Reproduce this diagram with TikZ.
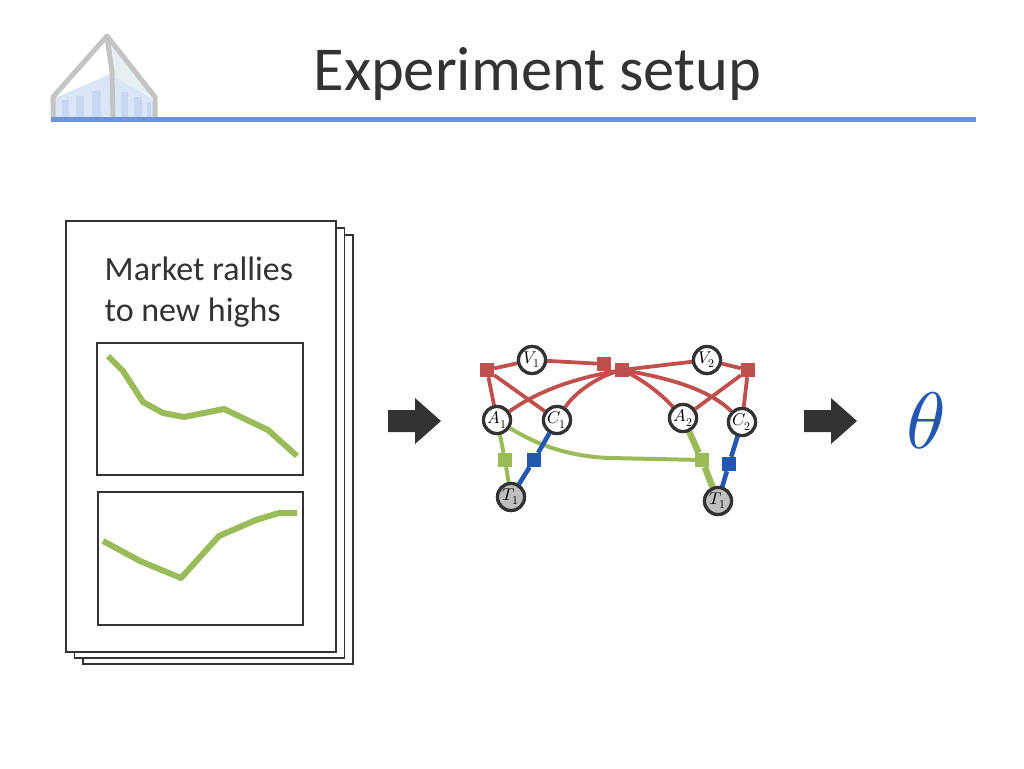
\documentclass[tikz,border=0pt]{standalone}
\usepackage{fontspec}
\setmainfont{Carlito}
\usepackage{unicode-math}
\definecolor{fred}{HTML}{C0504D}
\definecolor{fgreen}{HTML}{9BBB59}
\definecolor{fblue}{HTML}{2458B0}
\definecolor{rulec}{HTML}{6C93D6}
\definecolor{ink}{HTML}{333333}
\definecolor{logoa}{HTML}{DAE5F7}
\definecolor{logob}{HTML}{E6F0F3}
\definecolor{logoc}{HTML}{C8D7F1}
\definecolor{logod}{HTML}{C4C4C4}
\tikzset{
 x=1pt,y=-1pt,
 var/.style={circle,draw=ink,line width=3.2pt,fill=white,minimum size=27pt,inner sep=0pt,font=\fontsize{17}{17}\selectfont},
 obs/.style={var,fill=black!25},
 fac/.style={rectangle,minimum size=14pt,inner sep=0pt},
 rf/.style={fac,fill=fred},
 gf/.style={fac,fill=fgreen},
 bf/.style={fac,fill=fblue},
 re/.style={draw=fred,line width=3.8pt},
 ge/.style={draw=fgreen,line width=4pt},
 be/.style={draw=fblue,line width=4.6pt},
 page/.style={draw=ink,line width=1.8pt,fill=white},
 plotbox/.style={draw=ink,line width=1.8pt,fill=white},
 curve/.style={draw=fgreen,line width=6pt,line join=round},
 blockarrow/.style={fill=ink,draw=none},
 logoline/.style={draw=logod,line width=5pt,line join=round}
}
\begin{document}
\begin{tikzpicture}
\useasboundingbox (0,0) rectangle (1024,768);
% logo
\fill[logoa] (55,117) -- (55,98) -- (110,74) -- (152,98) -- (155,117) -- cycle;
\fill[logob] (108,37) -- (153,97) -- (112,76) -- cycle;
\foreach \xa/\xb/\yt in {62/69/100,76/84/96,92/101/91,121/128/92,134/142/97,147/151/102}
  \fill[logoc] (\xa,117) -- (\xa,\yt) -- (\xb,\yt) -- (\xb,117) -- cycle;
\draw[logoline] (53,117) -- (53,97) -- (107,36) -- (155,97) -- (155,117);
\draw[logoline] (107,36) -- (112,72) -- (113,117);
% title rule
\draw[rulec,line width=4.4pt] (51,119.5) -- (976,119.5);
\node[text=ink,font=\fontsize{62.5}{62.5}\selectfont,anchor=center] (title) at (537.5,74.5) {Experiment setup};
% pages
\draw[page] (83,235) rectangle (353,664);
\draw[page] (74.5,228) rectangle (344.5,658);
\draw[page] (66,221) rectangle (336,652);
\node[text=ink,font=\fontsize{34}{41}\selectfont,align=left,anchor=north west,inner sep=0pt] (head) at (104.5,257) {Market rallies\\to new highs};
\draw[plotbox] (97,343) rectangle (303,475);
\draw[plotbox] (98,492) rectangle (303,625);
\draw[curve] (108,356) -- (123,371) -- (143,402) -- (163,413) -- (184,417) -- (224,409) -- (268,430) -- (297,456);
\draw[curve] (103,541) -- (140,561) -- (181,578) -- (219,536) -- (256,520) -- (279,513) -- (297,513);
% arrows
\fill[blockarrow] (388,410) -- (415,410) -- (415,398) -- (441,421) -- (415,444) -- (415,432) -- (388,432) -- cycle;
\fill[blockarrow] (804,410) -- (831,410) -- (831,398) -- (857,421) -- (831,444) -- (831,432) -- (804,432) -- cycle;
\node[text=fblue,font=\fontsize{80}{80}\selectfont,anchor=center] (theta) at (926,421) {$\symit{\theta}$};
% node positions
\node[var] (V1) at (532,360) {};
\node[var] (V2) at (707,360) {};
\node[var] (A1) at (497,420) {};
\node[var] (C1) at (557,420) {};
\node[var] (A2) at (683,418) {};
\node[var] (C2) at (742,422) {};
\node[obs] (T1) at (511,497) {};
\node[obs] (T2) at (718,501) {};
\node[rf] (fa) at (487,370) {};
\node[rf] (fb) at (604,364) {};
\node[rf] (fc) at (622,370) {};
\node[rf] (fd) at (748,370) {};
\node[gf] (ga) at (505,460) {};
\node[gf] (gb) at (702,460) {};
\node[bf] (ba) at (534,460) {};
\node[bf] (bb) at (729,464) {};
% edges
\path[re] (fa) -- (V1) (fa) -- (A1) (fa) -- (C1);
\path[re] (V1) -- (fb) (fc) -- (V2);
\path[re] (fc.center) .. controls (575,378) and (540,390) .. (A1);
\path[re] (fc.center) .. controls (600,375) and (575,392) .. (C1);
\path[re] (fc.center) .. controls (645,380) and (665,398) .. (A2);
\path[re] (fc.center) .. controls (670,378) and (710,390) .. (C2);
\path[re] (fd) -- (V2) (fd) -- (A2) (fd) -- (C2);
\path[ge] (A1) -- (ga) -- (T1);
\path[ge] (A1) .. controls (545,450) and (580,457) .. (610,458) -- (gb);
\path[ge,line width=6.5pt] (A2) -- (gb) -- (T2);
\path[be] (C1) -- (ba) -- (T1);
\path[be] (C2) -- (bb) -- (T2);
% nodes on top of the edges
\node[var] at (V1) {$V_1$};
\node[var] at (V2) {$V_2$};
\node[var] at (A1) {$A_1$};
\node[var] at (C1) {$C_1$};
\node[var] at (A2) {$A_2$};
\node[var] at (C2) {$C_2$};
\node[obs] at (T1) {$T_1$};
\node[obs] at (T2) {$T_1$};
\node[rf] at (fa) {};
\node[rf] at (fb) {};
\node[rf] at (fc) {};
\node[rf] at (fd) {};
\node[gf] at (ga) {};
\node[gf] at (gb) {};
\node[bf] at (ba) {};
\node[bf] at (bb) {};
\end{tikzpicture}
\end{document}
